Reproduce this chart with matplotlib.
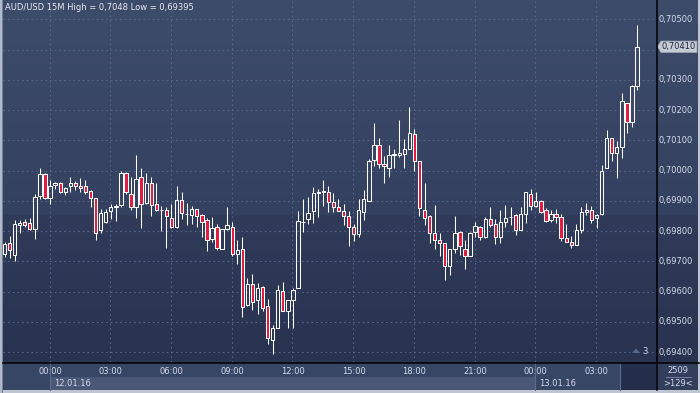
import matplotlib
matplotlib.use('Agg')
import matplotlib.pyplot as plt
import numpy as np
from matplotlib.patches import Rectangle, Polygon
from matplotlib.lines import Line2D
from matplotlib.transforms import blended_transform_factory

# ---------------- data (AUD/USD 15M candles) ----------------
opens = [0.69725, 0.69761, 0.69720, 0.69821, 0.69831, 0.69826, 0.69806, 0.69917, 0.69989, 0.69908,
         0.69951, 0.69958, 0.69928, 0.69948, 0.69959, 0.69948, 0.69948, 0.69931, 0.69908, 0.69803,
         0.69830, 0.69867, 0.69878, 0.69887, 0.69992, 0.69922, 0.69878, 0.69978, 0.69894, 0.69958,
         0.69888, 0.69869, 0.69869, 0.69844, 0.69814, 0.69902, 0.69855, 0.69853, 0.69872, 0.69852,
         0.69836, 0.69775, 0.69813, 0.69741, 0.69806, 0.69814, 0.69724, 0.69741, 0.69556, 0.69625,
         0.69572, 0.69614, 0.69551, 0.69439, 0.69479, 0.69601, 0.69534, 0.69572, 0.69612, 0.69829,
         0.69839, 0.69867, 0.69926, 0.69930, 0.69929, 0.69896, 0.69879, 0.69866, 0.69851, 0.69812,
         0.69789, 0.69864, 0.69898, 0.70034, 0.70083, 0.70022, 0.70009, 0.70052, 0.70051, 0.70056,
         0.70072, 0.70122, 0.70031, 0.69870, 0.69850, 0.69792, 0.69770, 0.69759, 0.69684, 0.69742,
         0.69798, 0.69742, 0.69718, 0.69798, 0.69812, 0.69781, 0.69839, 0.69823, 0.69781, 0.69829,
         0.69846, 0.69852, 0.69805, 0.69857, 0.69923, 0.69882, 0.69899, 0.69870, 0.69835, 0.69857,
         0.69846, 0.69778, 0.69764, 0.69755, 0.69802, 0.69863, 0.69870, 0.69843, 0.69855, 0.70008,
         0.70108, 0.70057, 0.70077, 0.70223, 0.70162, 0.70280]
highs = [0.69765, 0.69783, 0.69836, 0.69837, 0.69839, 0.69844, 0.69922, 0.70009, 0.69992, 0.69970,
         0.69961, 0.69961, 0.69947, 0.69978, 0.69964, 0.69976, 0.69969, 0.69937, 0.69910, 0.69872,
         0.69872, 0.69891, 0.69891, 0.70000, 0.69994, 0.69980, 0.70050, 0.70009, 0.69991, 0.69978,
         0.69958, 0.69883, 0.69878, 0.69889, 0.69950, 0.69930, 0.69892, 0.69883, 0.69874, 0.69856,
         0.69844, 0.69847, 0.69822, 0.69806, 0.69878, 0.69831, 0.69772, 0.69781, 0.69644, 0.69658,
         0.69628, 0.69617, 0.69576, 0.69490, 0.69623, 0.69633, 0.69572, 0.69612, 0.69867, 0.69907,
         0.69911, 0.69946, 0.69939, 0.69970, 0.69950, 0.69926, 0.69907, 0.69889, 0.69867, 0.69822,
         0.69907, 0.69937, 0.70037, 0.70157, 0.70107, 0.70048, 0.70083, 0.70072, 0.70167, 0.70103,
         0.70211, 0.70137, 0.70033, 0.69959, 0.69853, 0.69887, 0.69794, 0.69761, 0.69742, 0.69850,
         0.69800, 0.69772, 0.69798, 0.69831, 0.69818, 0.69846, 0.69878, 0.69840, 0.69870, 0.69887,
         0.69878, 0.69857, 0.69879, 0.69929, 0.69940, 0.69929, 0.69903, 0.69876, 0.69871, 0.69874,
         0.69855, 0.69824, 0.69784, 0.69824, 0.69879, 0.69893, 0.69882, 0.69857, 0.70019, 0.70134,
         0.70108, 0.70097, 0.70258, 0.70223, 0.70282, 0.70480]
lows = [0.69715, 0.69711, 0.69700, 0.69794, 0.69814, 0.69803, 0.69774, 0.69906, 0.69906, 0.69891,
        0.69939, 0.69926, 0.69920, 0.69930, 0.69936, 0.69930, 0.69922, 0.69878, 0.69770, 0.69792,
        0.69828, 0.69839, 0.69833, 0.69878, 0.69922, 0.69870, 0.69842, 0.69809, 0.69891, 0.69850,
        0.69867, 0.69800, 0.69744, 0.69811, 0.69811, 0.69841, 0.69819, 0.69822, 0.69814, 0.69780,
        0.69733, 0.69764, 0.69736, 0.69739, 0.69803, 0.69719, 0.69692, 0.69517, 0.69553, 0.69539,
        0.69526, 0.69535, 0.69426, 0.69395, 0.69479, 0.69534, 0.69479, 0.69479, 0.69612, 0.69798,
        0.69822, 0.69828, 0.69848, 0.69883, 0.69864, 0.69864, 0.69866, 0.69820, 0.69751, 0.69767,
        0.69781, 0.69837, 0.69898, 0.70014, 0.70007, 0.69959, 0.69978, 0.70007, 0.70046, 0.70007,
        0.70072, 0.69998, 0.69851, 0.69820, 0.69761, 0.69739, 0.69718, 0.69637, 0.69656, 0.69729,
        0.69720, 0.69676, 0.69718, 0.69781, 0.69770, 0.69776, 0.69814, 0.69757, 0.69761, 0.69814,
        0.69820, 0.69786, 0.69805, 0.69826, 0.69871, 0.69878, 0.69859, 0.69830, 0.69830, 0.69827,
        0.69767, 0.69764, 0.69744, 0.69753, 0.69793, 0.69852, 0.69827, 0.69811, 0.69852, 0.70008,
        0.70033, 0.69976, 0.70042, 0.70124, 0.70143, 0.70267]
closes = [0.69756, 0.69737, 0.69822, 0.69826, 0.69820, 0.69806, 0.69911, 0.69989, 0.69908, 0.69948,
          0.69958, 0.69928, 0.69941, 0.69959, 0.69948, 0.69941, 0.69928, 0.69908, 0.69794, 0.69859,
          0.69863, 0.69878, 0.69883, 0.69992, 0.69928, 0.69878, 0.69972, 0.69891, 0.69958, 0.69887,
          0.69870, 0.69871, 0.69850, 0.69814, 0.69902, 0.69861, 0.69856, 0.69872, 0.69850, 0.69831,
          0.69772, 0.69811, 0.69744, 0.69806, 0.69821, 0.69724, 0.69736, 0.69548, 0.69625, 0.69567,
          0.69612, 0.69546, 0.69446, 0.69479, 0.69606, 0.69537, 0.69572, 0.69606, 0.69833, 0.69831,
          0.69859, 0.69926, 0.69930, 0.69931, 0.69896, 0.69879, 0.69866, 0.69851, 0.69812, 0.69789,
          0.69870, 0.69907, 0.70033, 0.70083, 0.70022, 0.70014, 0.70053, 0.70054, 0.70057, 0.70072,
          0.70123, 0.70031, 0.69876, 0.69842, 0.69792, 0.69772, 0.69759, 0.69684, 0.69739, 0.69792,
          0.69750, 0.69718, 0.69792, 0.69818, 0.69779, 0.69840, 0.69820, 0.69781, 0.69829, 0.69844,
          0.69848, 0.69802, 0.69857, 0.69929, 0.69882, 0.69901, 0.69863, 0.69833, 0.69857, 0.69846,
          0.69778, 0.69764, 0.69755, 0.69804, 0.69863, 0.69870, 0.69835, 0.69854, 0.70000, 0.70108,
          0.70057, 0.70077, 0.70229, 0.70162, 0.70278, 0.70410]

time_labels = ["00:00", "03:00", "06:00", "09:00", "12:00", "15:00", "18:00", "21:00", "00:00", "03:00"]
time_tick_idx = [9, 21, 33, 45, 57, 69, 81, 93, 105, 117]
date_labels = ["12.01.16", "13.01.16"]
date_tick_idx = [9, 105]
price_ticks = [0.694, 0.695, 0.696, 0.697, 0.698, 0.699, 0.700, 0.701, 0.702, 0.703, 0.704, 0.705]
title = "AUD/USD 15M High = 0,7048 Low = 0,69395"
last_price = 0.70410
corner_top, corner_bottom = "2509", ">129<"
bar_count_label = "3"

# ---------------- figure ----------------
W, H = 700, 393
fig = plt.figure(figsize=(W / 100, H / 100), dpi=100)
def fx(x): return x / W
def fy(y): return 1 - y / H

# background image (pixel based)
img = np.zeros((H, W, 3))
def lerp(a, b, t):
    return np.array(a) + (np.array(b) - np.array(a)) * t
for y in range(H):
    if y <= 214:
        c = lerp((62, 76, 108), (52, 64, 95), y / 214)
    elif y <= 362:
        c = lerp((47, 59, 89), (41, 51, 80), (y - 215) / 147)
    else:
        c = (56, 70, 102)
    img[y, :, :] = np.array(c) / 255.0
img[390:, :, :] = np.array((190, 198, 210)) / 255.0
img[:, 0:3, :] = np.array((176, 186, 200)) / 255.0
img[:, 2, :] = np.array((120, 130, 150)) / 255.0
img[:, 698:, :] = np.array((190, 198, 210)) / 255.0
img[363:390, 621:656, :] = np.array((36, 46, 74)) / 255.0
img[363:390, 657:698, :] = np.array((50, 62, 92)) / 255.0
bg = fig.add_axes([0, 0, 1, 1], zorder=-10)
bg.imshow(img, aspect='auto', interpolation='nearest', extent=(0, W, H, 0))
bg.set_xlim(0, W); bg.set_ylim(H, 0)
bg.set_axis_off()

ax = fig.add_axes([fx(3), fy(362), (656 - 3) / W, 362 / H])
ax.set_facecolor('none')
ax.set_xlim(-0.3, 128.75)
ax.set_ylim(0.69367, 0.70564)
for s in ax.spines.values():
    s.set_visible(False)

grid_col = '#5b6a8a'
for p in price_ticks:
    ax.axhline(p, color=grid_col, lw=0.7, ls=(0, (1.6, 3.2)), zorder=1)
for i in time_tick_idx:
    ax.axvline(i - 0.1, color=grid_col, lw=0.7, ls=(0, (1.6, 3.2)), zorder=1)

# candles
o = np.array(opens); h = np.array(highs); l = np.array(lows); c = np.array(closes)
x = np.arange(len(o))
top = np.maximum(o, c); bot = np.minimum(o, c)
ax.vlines(x, l, bot, color='white', lw=0.75, zorder=3)
ax.vlines(x, top, h, color='white', lw=0.75, zorder=3)
height = np.maximum(top - bot, 0.000012)
up = c >= o
red = '#e3193d'
ax.bar(x[up], height[up], bottom=bot[up], width=0.66, facecolor='none',
       edgecolor='white', linewidth=0.75, zorder=4)
ax.bar(x[~up], height[~up], bottom=bot[~up], width=0.66, facecolor=red,
       edgecolor='white', linewidth=0.75, zorder=4)

# axes ticks (the 0,70400 label is hidden behind the last-price tag)
txt_col = '#d3dbea'
ax.yaxis.tick_right()
ax.set_yticks(price_ticks)
ax.set_yticklabels(["" if abs(p - 0.704) < 1e-9 else f"{p:.5f}".replace('.', ',')
                    for p in price_ticks])
ax.set_xticks(time_tick_idx)
ax.set_xticklabels(time_labels)
ax.tick_params(axis='y', length=0, pad=1.6, labelsize=6.0, labelcolor=txt_col)
ax.tick_params(axis='x', length=0, pad=3.6, labelsize=6.0, labelcolor=txt_col)
for lab in ax.get_yticklabels():
    lab.set_verticalalignment('center')

# bottom panel: date band and separators
bt = blended_transform_factory(ax.transData, fig.transFigure)
band = Rectangle((date_tick_idx[0] - 0.1, fy(390)), date_tick_idx[1] - date_tick_idx[0],
                 (390 - 377) / H, transform=bt, facecolor='#4b5777', edgecolor='none',
                 clip_on=False, zorder=0)
fig.add_artist(band)
for i in date_tick_idx:
    fig.add_artist(Line2D([i - 0.1, i - 0.1], [fy(363), fy(390)], transform=bt,
                          color='#5d6b8b', lw=0.8))
for lab, i in zip(date_labels, date_tick_idx):
    fig.text(i + 0.7, fy(383.5), lab, transform=bt, fontsize=6.0, color=txt_col,
             ha='left', va='center')

fig.add_artist(Line2D([fx(620), fx(620)], [fy(363), fy(390)], color='#5d6b8b', lw=0.8))

# black axis lines
fig.add_artist(Line2D([fx(3), fx(700)], [fy(362.5), fy(362.5)], color='black', lw=1.1))
fig.add_artist(Line2D([fx(656.5), fx(656.5)], [fy(0), fy(390)], color='black', lw=1.1))

# corner box text
fig.text(fx(678), fy(370.5), corner_top, fontsize=6.0, color=txt_col, ha='center', va='center')
fig.add_artist(Line2D([fx(666), fx(691)], [fy(377), fy(377)], color='#7a88a8', lw=0.6))
fig.text(fx(678), fy(383.5), corner_bottom, fontsize=6.0, color=txt_col, ha='center', va='center')

# title
fig.text(fx(5), fy(8), title, fontsize=6.0, color='#e6eaf2', ha='left', va='center')

# bars-count marker
fig.add_artist(Polygon([[fx(632), fy(353)], [fx(640), fy(353)], [fx(636), fy(348.5)]],
                       closed=True, facecolor='#56668a', edgecolor='none'))
fig.text(fx(642), fy(351), bar_count_label, fontsize=6.0, color=txt_col, ha='left', va='center')

# last price tag
ly = ax.transData.transform((0, last_price))[1]
ly_px = H - ly
tag = Polygon([[fx(657.5), fy(ly_px)], [fx(661), fy(ly_px - 5.5)], [fx(697), fy(ly_px - 5.5)],
               [fx(697), fy(ly_px + 6)], [fx(661), fy(ly_px + 6)]], closed=True,
              facecolor='#c6cad3', edgecolor='#9aa2b2', lw=0.5)
fig.add_artist(tag)
fig.text(fx(679), fy(ly_px), f"{last_price:.5f}".replace('.', ','), fontsize=6.0,
         color='#1d2a44', ha='center', va='center')

fig.savefig('out.png', dpi=100)
